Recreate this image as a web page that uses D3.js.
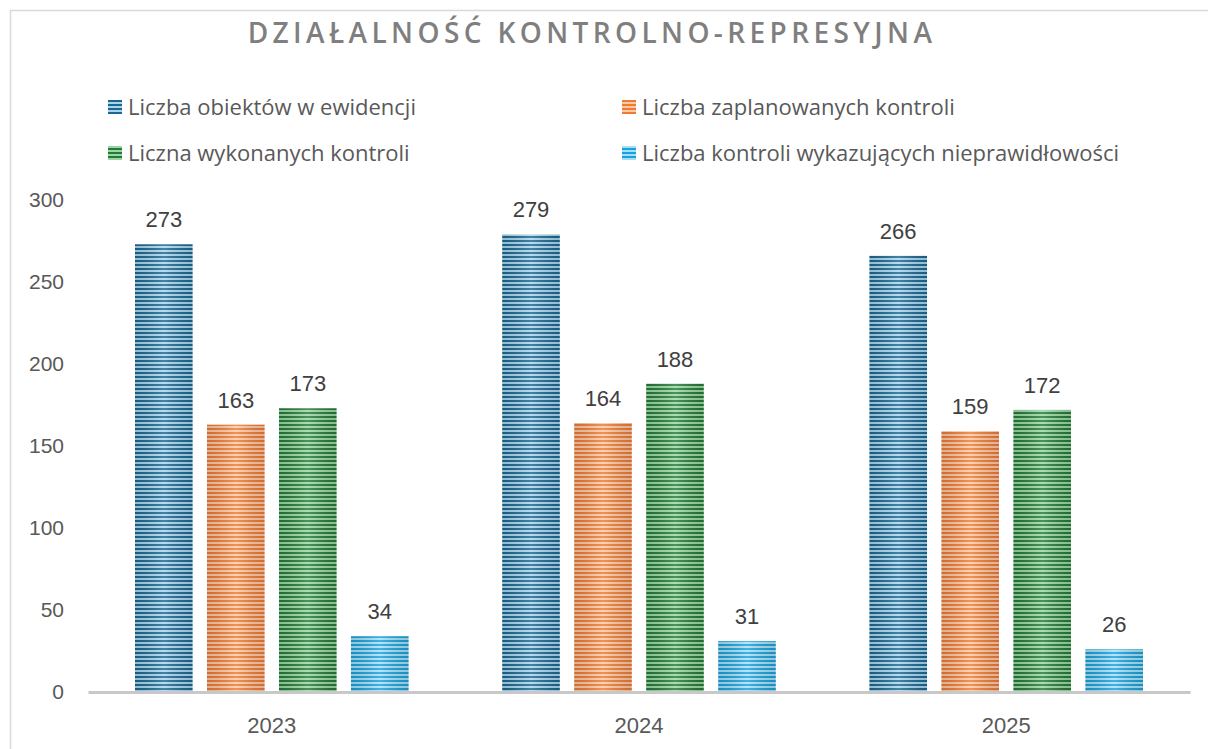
<!DOCTYPE html>
<html><head><meta charset="utf-8">
<script src="https://cdn.jsdelivr.net/npm/d3@7"></script>
<style>body{margin:0;background:#fff;} svg{display:block;font-family:"Liberation Sans",Arial,sans-serif;}</style>
</head><body>
<svg id="c" width="1208" height="749"></svg>
<script>
const years = ["2023","2024","2025"];
const seriesNames = ["Liczba obiektów w ewidencji","Liczba zaplanowanych kontroli","Liczna wykonanych kontroli","Liczba kontroli wykazujących nieprawidłowości"];
const obiekty = [273,279,266];
const zaplanowane = [163,164,159];
const wykonane = [173,188,172];
const nieprawidlowosci = [34,31,26];
const yTicks = [0,50,100,150,200,250,300];
const title = "DZIAŁALNOŚĆ KONTROLNO-REPRESYJNA";

const seriesValues = [obiekty, zaplanowane, wykonane, nieprawidlowosci];
const colors = [
  {dark:"#1c6791", light:"#a7d5ec"},
  {dark:"#f07a33", light:"#fbc9a6"},
  {dark:"#247a38", light:"#99d6a1"},
  {dark:"#17a2dc", light:"#a6def6"}
];

const svg = d3.select("#c");
const defs = svg.append("defs");
colors.forEach((c,i)=>{
  const p = defs.append("pattern").attr("id","p"+i).attr("patternUnits","userSpaceOnUse")
    .attr("width",8).attr("height",4);
  p.append("rect").attr("width",8).attr("height",4).attr("fill",c.light);
  p.append("rect").attr("width",8).attr("height",2).attr("fill",c.dark);
});
const g = defs.append("linearGradient").attr("id","shine").attr("x1","0").attr("x2","1").attr("y1","0").attr("y2","0");
g.append("stop").attr("offset","0").attr("stop-color","#000").attr("stop-opacity",0.12);
g.append("stop").attr("offset","0.5").attr("stop-color","#fff").attr("stop-opacity",0.18);
g.append("stop").attr("offset","1").attr("stop-color","#000").attr("stop-opacity",0.12);

// border
svg.append("path").attr("d","M10.5,749 L10.5,10.5 L1208,10.5").attr("fill","none").attr("stroke","#d9d9d9").attr("stroke-width",1.5);

const plotLeft = 88, plotRight = 1190, plotTop = 200, plotBottom = 692;
const x0 = d3.scaleBand().domain(years).range([plotLeft,plotRight]).paddingInner(0.255).paddingOuter(0.128);
const x1 = d3.scaleBand().domain(d3.range(4)).range([0,x0.bandwidth()]).paddingInner(0.2);
const y = d3.scaleLinear().domain([0,300]).range([plotBottom,plotTop]);

// title
svg.append("text").attr("x",592).attr("y",43).attr("text-anchor","middle")
  .attr("font-size",28).attr("letter-spacing","4.4px").attr("fill","#7f7f7f").attr("font-family","'Open Sans',sans-serif")
  .attr("font-weight",600).text(title);

// legend
const legPos = [[108,107],[622,107],[108,153],[622,153]];
seriesNames.forEach((n,i)=>{
  const [lx,ly]=legPos[i];
  svg.append("rect").attr("x",lx).attr("y",ly-7).attr("width",14).attr("height",14).attr("fill",`url(#p${i})`);
  svg.append("text").attr("x",lx+20).attr("y",ly+8).attr("font-size",22).attr("fill","#595959").attr("font-family","'Open Sans',sans-serif").text(n);
});

// y axis labels
const yAxis = d3.axisLeft(y).tickValues(yTicks).tickSize(0).tickPadding(0);
const ya = svg.append("g").attr("transform",`translate(64,0)`).call(yAxis);
ya.select(".domain").remove();
ya.selectAll("text").attr("font-size",21).attr("fill","#595959").attr("font-family","'Liberation Sans',Arial,sans-serif");

// bars
years.forEach((yr,gi)=>{
  const gg = svg.append("g").attr("transform",`translate(${x0(yr)},0)`);
  seriesValues.forEach((vals,si)=>{
    const v = vals[gi];
    gg.append("rect").attr("x",x1(si)).attr("y",y(v)).attr("width",x1.bandwidth()).attr("height",plotBottom-y(v)).attr("fill",`url(#p${si})`);
    gg.append("rect").attr("x",x1(si)).attr("y",y(v)).attr("width",x1.bandwidth()).attr("height",plotBottom-y(v)).attr("fill","url(#shine)");
    gg.append("text").attr("x",x1(si)+x1.bandwidth()/2).attr("y",y(v)-17).attr("text-anchor","middle")
      .attr("font-size",22).attr("fill","#404040").text(v);
  });
});

// x axis
const xAxis = d3.axisBottom(x0).tickSize(0).tickPadding(0);
const xa = svg.append("g").attr("transform",`translate(0,${plotBottom})`).call(xAxis);
xa.select(".domain").attr("stroke","#c8c8c8").attr("stroke-width",3);
xa.selectAll("text").attr("font-size",22).attr("fill","#595959").attr("dy","0").attr("y",41).attr("font-family","'Liberation Sans',Arial,sans-serif");
</script>
</body></html>
